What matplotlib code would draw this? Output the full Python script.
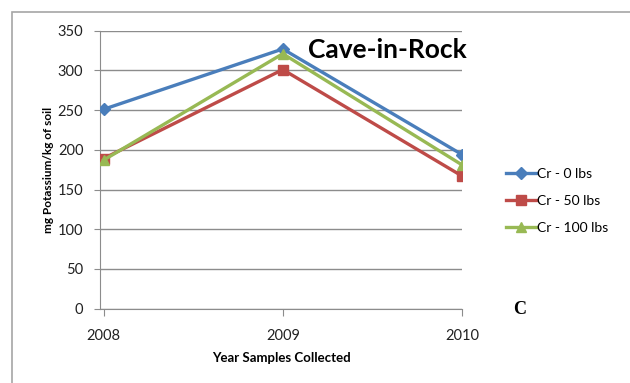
import matplotlib.pyplot as plt
from matplotlib.patches import Rectangle

plt.rcParams['font.family'] = ['Lato', 'DejaVu Sans']

years = [2008, 2009, 2010]
cr_0 = [251, 327, 194]
cr_50 = [189, 301, 167]
cr_100 = [187, 321, 181]
y_ticks = [0, 50, 100, 150, 200, 250, 300, 350]

fig = plt.figure(figsize=(6.3, 3.83), dpi=100)

# outer chart frame
fig.patches.append(Rectangle((12 / 630, -0.1), 1.2, 1 - 12 / 383 + 0.1,
                             transform=fig.transFigure, fill=False,
                             edgecolor='#a6a6a6', linewidth=1.2))

ax = fig.add_axes([100 / 630, 1 - 308.6 / 383, 362 / 630, (308.6 - 30.7) / 383])

ax.plot(years, cr_0, color='#4a7ebb', lw=2.4, marker='D', ms=6,
        label='Cr - 0 lbs', zorder=3)
ax.plot(years, cr_50, color='#be4b48', lw=2.4, marker='s', ms=7.5,
        label='Cr - 50 lbs', zorder=3)
ax.plot(years, cr_100, color='#98b954', lw=2.4, marker='^', ms=7.5,
        label='Cr - 100 lbs', zorder=3)

ax.set_xlim(2007.98, 2010)
ax.set_ylim(0, 350)
ax.set_yticks(y_ticks)
ax.set_xticks(years)
ax.set_xticklabels([str(y) for y in years])
ax.yaxis.grid(True, color='#8c8c8c', lw=1)
ax.set_axisbelow(True)

for s in ['top', 'right']:
    ax.spines[s].set_visible(False)
for s in ['left', 'bottom']:
    ax.spines[s].set_color('#8c8c8c')
ax.tick_params(axis='both', colors='#8c8c8c', labelcolor='#222222',
               labelsize=10.5, length=4)
ax.tick_params(axis='y', pad=8)
ax.tick_params(axis='x', direction='out', length=5, pad=10)

ax.set_xlabel('Year Samples Collected', fontsize=9.5, fontweight='bold', labelpad=6)
ax.set_ylabel('mg Potassium/kg of soil', fontsize=8.5, fontweight='bold', labelpad=3)

ax.text(0.575, 0.93, 'Cave-in-Rock', transform=ax.transAxes, fontsize=19,
        fontweight='bold', ha='left', va='center')

fig.text(520 / 630, 1 - 309 / 383, 'C', fontsize=13, fontweight='bold',
         family='Liberation Serif', ha='center', va='center')

ax.legend(loc='center left', bbox_to_anchor=(493 / 630, 1 - 201 / 383),
          bbox_transform=fig.transFigure, frameon=False, fontsize=10,
          handlelength=2.2, handletextpad=0.1, labelspacing=1.1)

fig.savefig('out.png', dpi=100)
